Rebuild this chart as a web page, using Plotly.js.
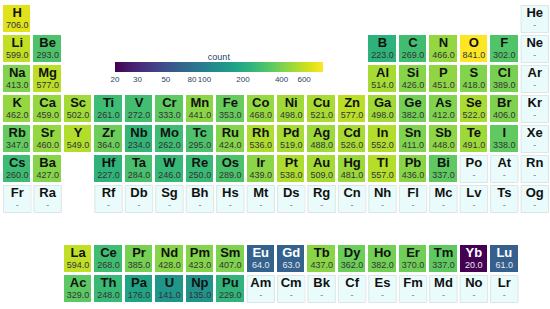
<!DOCTYPE html>
<html><head><meta charset="utf-8">
<script src="https://cdn.plot.ly/plotly-3.0.1.min.js"></script>
<style>html,body{margin:0;padding:0;background:#fff}#chart{width:550px;height:309px}</style>
</head><body><div id="chart"></div>
<script>
// element symbols, table positions (period row, group column) and counts (null = no data)
const symbols = ["H","He","Li","Be","B","C","N","O","F","Ne","Na","Mg","Al","Si","P","S","Cl","Ar",
"K","Ca","Sc","Ti","V","Cr","Mn","Fe","Co","Ni","Cu","Zn","Ga","Ge","As","Se","Br","Kr",
"Rb","Sr","Y","Zr","Nb","Mo","Tc","Ru","Rh","Pd","Ag","Cd","In","Sn","Sb","Te","I","Xe",
"Cs","Ba","Hf","Ta","W","Re","Os","Ir","Pt","Au","Hg","Tl","Pb","Bi","Po","At","Rn",
"Fr","Ra","Rf","Db","Sg","Bh","Hs","Mt","Ds","Rg","Cn","Nh","Fl","Mc","Lv","Ts","Og",
"La","Ce","Pr","Nd","Pm","Sm","Eu","Gd","Tb","Dy","Ho","Er","Tm","Yb","Lu",
"Ac","Th","Pa","U","Np","Pu","Am","Cm","Bk","Cf","Es","Fm","Md","No","Lr"];
const rows = [1,1, 2,2,2,2,2,2,2,2, 3,3,3,3,3,3,3,3,
 4,4,4,4,4,4,4,4,4,4,4,4,4,4,4,4,4,4,
 5,5,5,5,5,5,5,5,5,5,5,5,5,5,5,5,5,5,
 6,6,6,6,6,6,6,6,6,6,6,6,6,6,6,6,6,
 7,7,7,7,7,7,7,7,7,7,7,7,7,7,7,7,7,
 9,9,9,9,9,9,9,9,9,9,9,9,9,9,9,
 10,10,10,10,10,10,10,10,10,10,10,10,10,10,10];
const cols = [1,18, 1,2,13,14,15,16,17,18, 1,2,13,14,15,16,17,18,
 1,2,3,4,5,6,7,8,9,10,11,12,13,14,15,16,17,18,
 1,2,3,4,5,6,7,8,9,10,11,12,13,14,15,16,17,18,
 1,2,4,5,6,7,8,9,10,11,12,13,14,15,16,17,18,
 1,2,4,5,6,7,8,9,10,11,12,13,14,15,16,17,18,
 3,4,5,6,7,8,9,10,11,12,13,14,15,16,17,
 3,4,5,6,7,8,9,10,11,12,13,14,15,16,17];
const counts = [706,null, 599,293,223,269,466,841,302,null, 413,577,514,426,451,418,389,null,
 462,459,502,261,272,333,441,353,468,498,521,577,498,382,412,522,406,null,
 347,460,549,364,234,262,295,424,536,519,488,526,552,411,448,491,338,null,
 260,427,227,284,246,250,289,439,538,509,481,557,436,337,null,null,null,
 null,null,null,null,null,null,null,null,null,null,null,null,null,null,null,null,null,
 594,268,385,428,423,407,64,63,437,362,382,370,337,20,61,
 329,248,176,141,135,229,null,null,null,null,null,null,null,null,null];
const tickVals = [20,30,50,80,100,200,400,600];

const NR = 10, NC = 18;
const zData = [], zBlank = [];
for (let r = 0; r < NR; r++) { zData.push(new Array(NC).fill(null)); zBlank.push(new Array(NC).fill(null)); }
const vmin = Math.log10(Math.min(...counts.filter(v => v != null)));
const vmax = Math.log10(Math.max(...counts.filter(v => v != null)));
const symX=[],symY=[],symT=[],symC=[],valX=[],valY=[],valT=[],valC=[];
const shapes = [];
symbols.forEach((s,i)=>{
  const r = rows[i], c = cols[i], v = counts[i];
  if (v != null) zData[r-1][c-1] = Math.log10(v); else {
    zBlank[r-1][c-1] = 1;
    shapes.push({type:'rect', xref:'x', yref:'y', x0:c-0.45, x1:c+0.45, y0:r-0.45, y1:r+0.45,
      line:{color:'#dde6e6', width:1}, fillcolor:'rgba(0,0,0,0)', layer:'above'});
  }
  const dark = v != null && v < 100;
  symX.push(c); symY.push(r - 0.17); symT.push('<b>'+s+'</b>'); symC.push(dark ? '#ffffff' : '#111111');
  valX.push(c); valY.push(r + 0.23); valT.push(v != null ? v.toFixed(1) : '-');
  valC.push(dark ? '#e8e8f0' : (v != null ? '#333333' : '#777777'));
});
const xs = Array.from({length:NC},(_, i)=>i+1), ys = Array.from({length:NR},(_, i)=>i+1);

const traces = [
 {type:'heatmap', x:xs, y:ys, z:zBlank, colorscale:[[0,'#e9fbfb'],[1,'#e9fbfb']], showscale:false, xgap:3, ygap:3, hoverinfo:'skip'},
 {type:'heatmap', x:xs, y:ys, z:zData, colorscale:'Viridis', zmin:vmin, zmax:vmax, xgap:3, ygap:3, hoverinfo:'skip',
  colorbar:{orientation:'h', thickness:10, len:208, lenmode:'pixels', x:0.206, xanchor:'left', y:0.84, yanchor:'top',
   xpad:0, ypad:0, outlinewidth:0,
   title:{text:'count', side:'top', font:{size:9, color:'#2a3f5f'}},
   tickvals:tickVals.map(v=>Math.log10(v)), ticktext:tickVals.map(String), tickangle:0,
   tickfont:{size:8, color:'#2a3f5f'}, ticks:''}},
 {type:'scatter', mode:'text', x:symX, y:symY, text:symT, textfont:{family:'Liberation Sans, Arial, sans-serif', size:13, color:symC}, hoverinfo:'skip', showlegend:false},
 {type:'scatter', mode:'text', x:valX, y:valY, text:valT, textfont:{family:'Liberation Sans, Arial, sans-serif', size:9, color:valC}, hoverinfo:'skip', showlegend:false}
];
const layout = {
 width:550, height:309, margin:{l:2,r:0,t:4,b:5}, paper_bgcolor:'#fff', plot_bgcolor:'#fff', showlegend:false,
 xaxis:{range:[0.5,18.5], visible:false, fixedrange:true},
 yaxis:{range:[10.5,0.5], visible:false, fixedrange:true},
 font:{family:'Liberation Sans, Arial, sans-serif'}, shapes:shapes
};
Plotly.newPlot('chart', traces, layout, {staticPlot:true, displayModeBar:false});
</script></body></html>
